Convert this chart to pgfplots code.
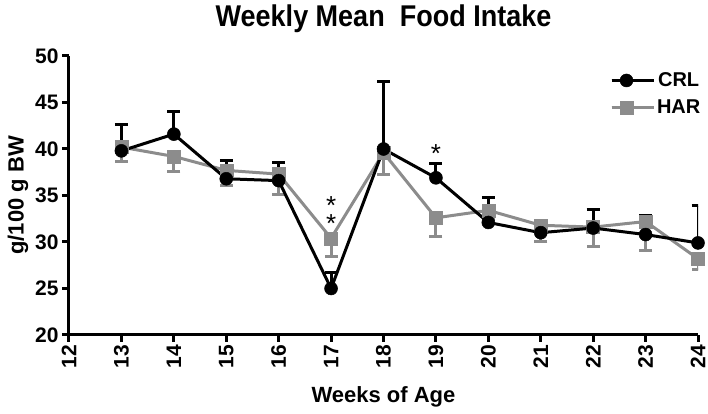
\documentclass[border=0pt]{standalone}
\usepackage{fontspec}
\setmainfont{Liberation Sans}
\usepackage{pgfplots}
\pgfplotsset{compat=1.18}
\usepackage{graphicx}
\definecolor{hargray}{RGB}{140,140,140}

\begin{document}
\begin{tikzpicture}
\useasboundingbox (-69pt,-79pt) rectangle (639pt,335pt);
\begin{axis}[
  scale only axis, width=629pt, height=279pt,
  xmin=12, xmax=24, ymin=20, ymax=50,
  xtick={12,...,24}, ytick={20,25,...,50},
  axis x line*=bottom, axis y line*=left,
  axis line style={line width=3pt, -},
  tick align=outside, major tick length=7pt,
  tick style={line width=3pt, black},
  /pgf/number format/assume math mode=true,
  ticklabel style={font=\fontsize{21}{21}\selectfont\bfseries},
  xticklabel style={rotate=90, anchor=east, inner sep=0pt, xshift=-3pt},
  xlabel={Weeks of Age},
  ylabel={g/100 g BW},
  label style={font=\fontsize{22}{22}\selectfont\bfseries},
  xlabel style={yshift=-14pt},
  title={\scalebox{0.9}[1]{Weekly Mean\ \ Food Intake}},
  title style={font=\fontsize{30}{30}\selectfont\bfseries, yshift=14pt},
  reverse legend,
  legend style={draw=none, fill=none, at={(0.855,0.955)}, anchor=north west,
    font=\fontsize{20}{20}\selectfont\bfseries, row sep=8pt},
  legend image code/.code={\draw[mark repeat=2,mark phase=2] plot coordinates {(0pt,0pt) (15pt,0pt) (30pt,0pt)};
    \path (0pt,0pt) -- (42pt,0pt);},
]
% HAR (gray squares, error bars down)
\addplot[hargray, line width=3pt, mark=square*, mark size=6.5pt,
  mark options={line width=0.5pt},
  error bars/.cd, y dir=minus, y explicit,
  error bar style={line width=3pt},
  error mark options={rotate=90, line width=3pt, mark size=6.5pt}]
  coordinates {
  (13,40.2) +- (0,1.5)
  (14,39.2) +- (0,1.6)
  (15,37.7) +- (0,1.6)
  (16,37.3) +- (0,2.2)
  (17,30.4) +- (0,2.0)
  (18,39.6) +- (0,2.3)
  (19,32.6) +- (0,2.0)
  (20,33.4) +- (0,1.0)
  (21,31.8) +- (0,1.8)
  (22,31.6) +- (0,2.1)
  (23,32.2) +- (0,3.1)
  (24,28.2) +- (0,1.2)
  };
\addlegendentry{HAR}
% CRL (black circles, error bars up)
\addplot[black, line width=3pt, mark=*, mark size=6.5pt,
  mark options={line width=0.5pt},
  error bars/.cd, y dir=plus, y explicit,
  error bar style={line width=3pt},
  error mark options={rotate=90, line width=3pt, mark size=6.5pt}]
  coordinates {
  (13,39.8) +- (0,2.8)
  (14,41.6) +- (0,2.4)
  (15,36.8) +- (0,2.0)
  (16,36.6) +- (0,1.9)
  (17,25.0) +- (0,1.7)
  (18,40.0) +- (0,7.3)
  (19,36.9) +- (0,1.5)
  (20,32.1) +- (0,2.7)
  (21,31.0) +- (0,1.2)
  (22,31.5) +- (0,2.0)
  (23,30.8) +- (0,2.1)
  (24,29.9) +- (0,4.0)
  };
\addlegendentry{CRL}
\node[anchor=north, inner sep=0pt, align=center, font=\fontsize{26}{18}\selectfont] at (axis cs:17,34.9) {*\\*};
\node[anchor=base, font=\fontsize{26}{26}\selectfont] at (axis cs:19,38.5) {*};
\end{axis}
\end{tikzpicture}
\end{document}
